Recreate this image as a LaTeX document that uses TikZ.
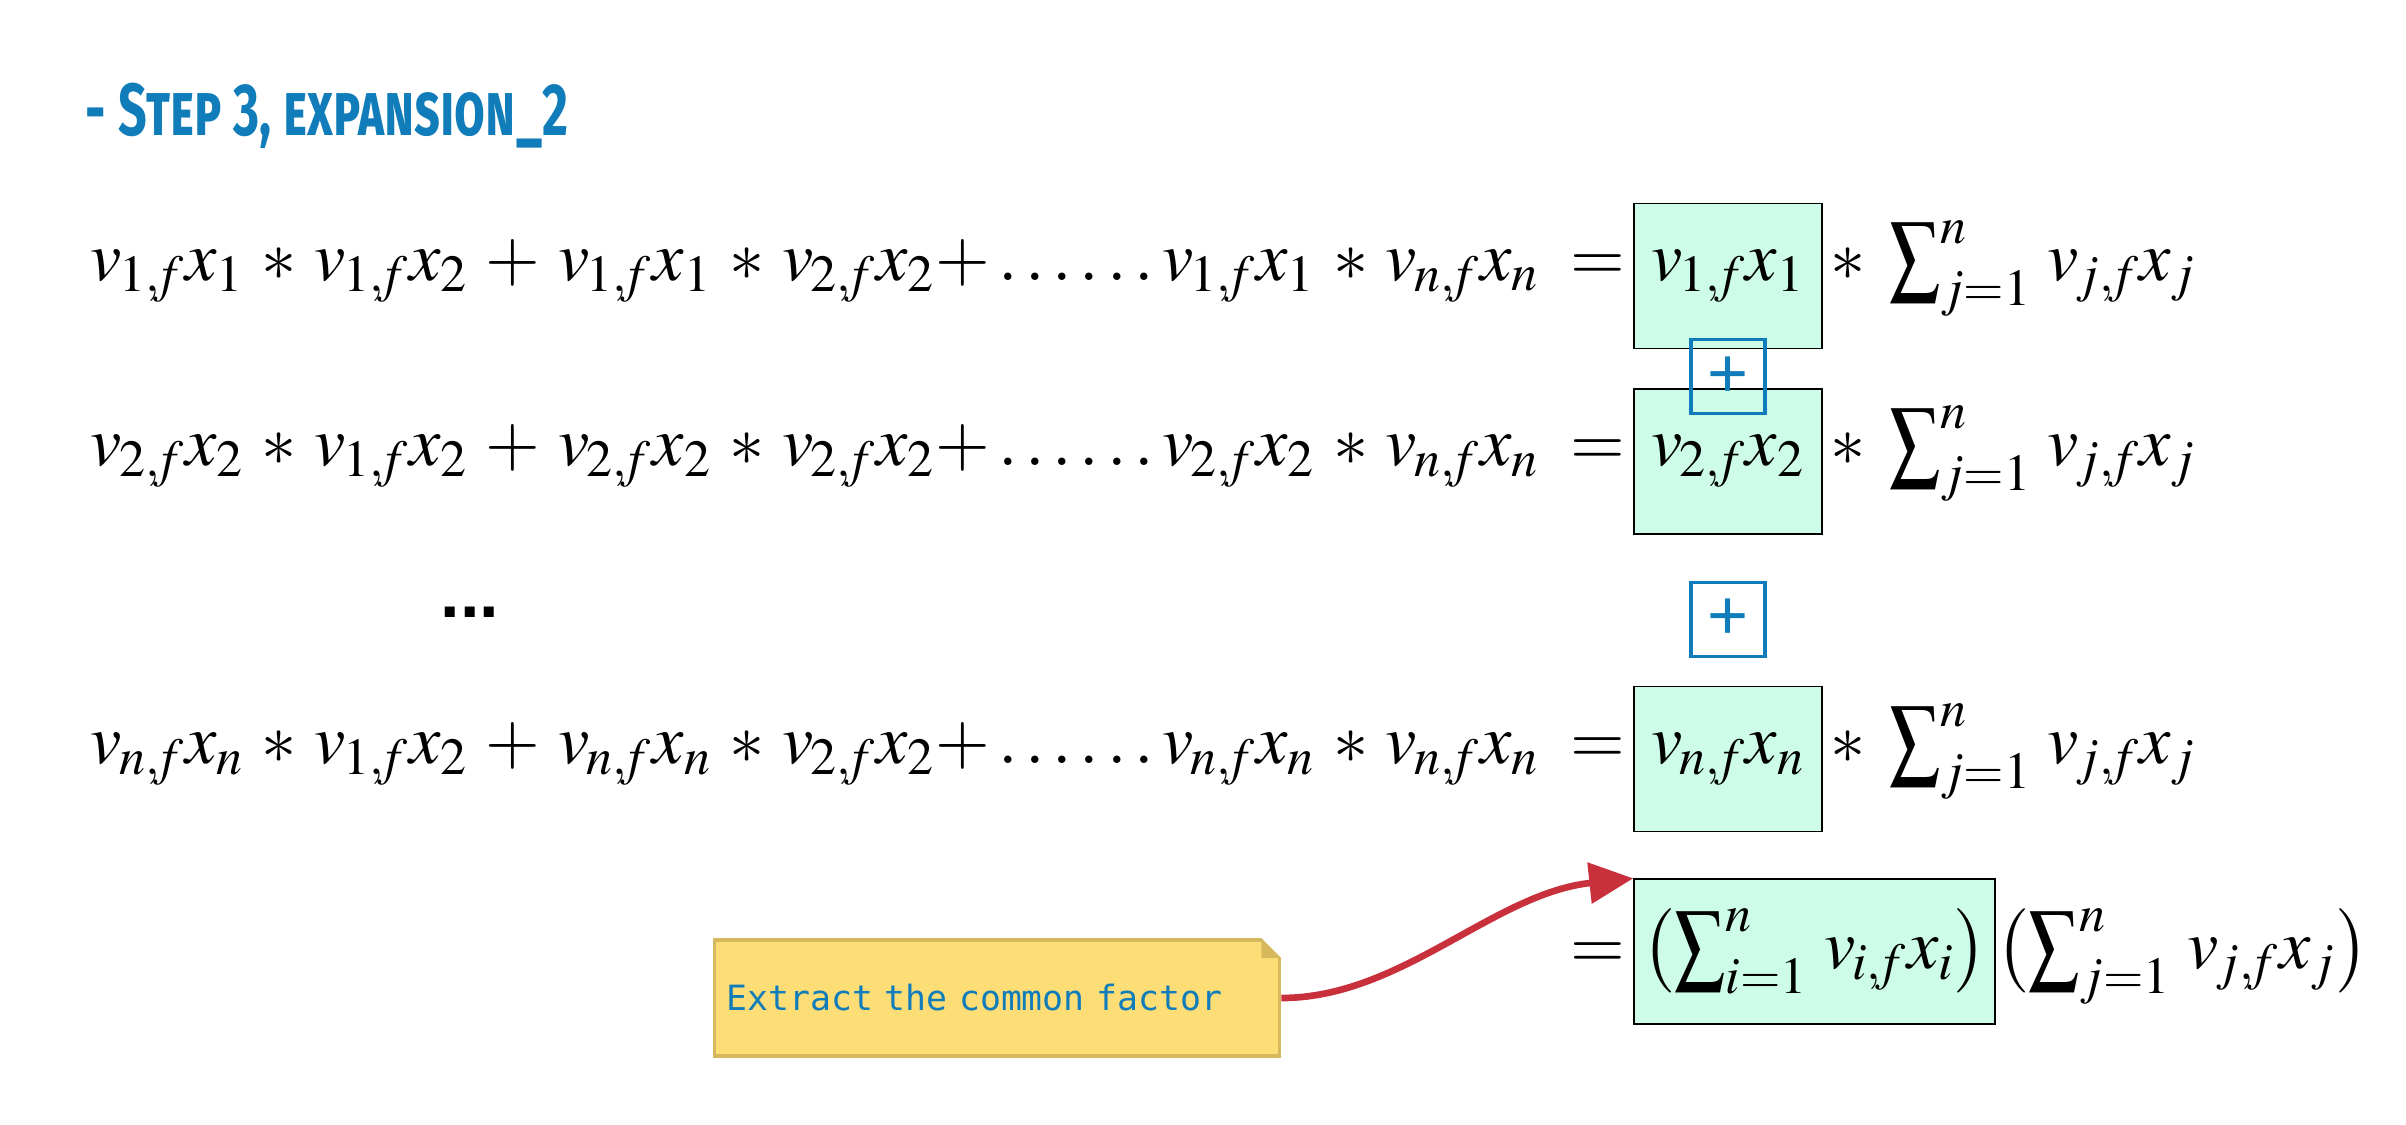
\documentclass[tikz,border=0pt]{standalone}
\usepackage{mathptmx}
\usepackage[no-math]{fontspec}
\setmainfont{Liberation Serif}
\usepackage{graphicx}
\usepackage{xcolor}
\usetikzlibrary{shapes,arrows,arrows.meta,positioning,calc}
\newfontfamily\titlefont[FakeStretch=0.68]{Fira Sans}
\newfontfamily\notefont{DejaVu Sans Mono}
\newfontfamily\plusfont{Liberation Sans}
\newcommand{\bigsigma}{\mathop{\vcenter{\hbox{\scalebox{1.02}[1.32]{$\sum$}}}}\nolimits}
\newcommand{\vx}[2]{v_{\mkern-1mu #1,\mkern-2mu f}x_{#2}}
\definecolor{titleblue}{HTML}{107CBA}
\definecolor{factgreen}{HTML}{CDFDE8}
\definecolor{noteyellow}{HTML}{FDDE76}
\definecolor{noteedge}{HTML}{D6B95C}
\definecolor{arrowred}{HTML}{C8303C}
\tikzset{
    fac/.style={rectangle, draw, fill=factgreen, minimum width=1.88cm, minimum height=1.45cm, inner sep=2pt, font=\fontsize{20}{24}\selectfont},
    eqn/.style={inner sep=2pt, font=\fontsize{20}{24}\selectfont},
    plusbox/.style={rectangle, draw=titleblue, line width=0.9pt, text=titleblue, minimum size=0.74cm, inner sep=0pt, font=\plusfont\fontsize{20}{24}\selectfont},
    note/.style={rectangle, draw=noteedge, fill=noteyellow, line width=1pt, text=titleblue, text width=5.41cm, inner sep=0.12cm, minimum height=1.16cm, align=left, font=\notefont\fontsize{9.9}{12}\selectfont},
    curvearrow/.style={draw, arrowred, line width=1.9pt, -{Triangle[length=0.44cm, width=0.4cm]}}
}
\begin{document}
\begin{tikzpicture}[x=0.01cm, y=-0.01cm]
    \useasboundingbox (0,0) rectangle (2406,1125);
    % Title
    \node[anchor=base west, inner sep=0pt, text=titleblue, font=\titlefont\bfseries\scshape\fontsize{21}{24}\selectfont] (title) at (85,136) {- Step 3, expansion\_2};

    % Common factors
    \node[fac] (fac1) at (1728,276) {$\vx{1}{1}$};
    \node[fac, below=0.39cm of fac1] (fac2) {$\vx{2}{2}$};
    \node[fac, below=1.51cm of fac2] (facn) {$\vx{n}{n}$};
    \node[fac, below=0.46cm of facn.south west, anchor=north west, minimum width=3.61cm] (facsum) {$\bigl(\bigsigma_{i=1}^{n}\,\vx{i}{i}\bigr)$};

    % Expanded rows
    \node[eqn, anchor=base east] (lhs1) at (fac1.base west) {$\vx{1}{1}\,*\,\vx{1}{2}\,+\,\vx{1}{1}\,*\,\vx{2}{2}{+}\ldots\ldots\vx{1}{1}\,*\,\vx{n}{n}\;=$};
    \node[eqn, anchor=base west] (rhs1) at (fac1.base east) {$*\;\bigsigma_{j=1}^{n}\,\vx{j}{j}$};
    \node[eqn, anchor=base east] (lhs2) at (fac2.base west) {$\vx{2}{2}\,*\,\vx{1}{2}\,+\,\vx{2}{2}\,*\,\vx{2}{2}{+}\ldots\ldots\vx{2}{2}\,*\,\vx{n}{n}\;=$};
    \node[eqn, anchor=base west] (rhs2) at (fac2.base east) {$*\;\bigsigma_{j=1}^{n}\,\vx{j}{j}$};
    \node[eqn, font=\plusfont\bfseries\fontsize{20}{24}\selectfont] (vdots) at (470,612) {...};
    \node[eqn, anchor=base east] (lhsn) at (facn.base west) {$\vx{n}{n}\,*\,\vx{1}{2}\,+\,\vx{n}{n}\,*\,\vx{2}{2}{+}\ldots\ldots\vx{n}{n}\,*\,\vx{n}{n}\;=$};
    \node[eqn, anchor=base west] (rhsn) at (facn.base east) {$*\;\bigsigma_{j=1}^{n}\,\vx{j}{j}$};
    \node[eqn, anchor=base east] (lhssum) at (facsum.base west) {$=$};
    \node[eqn, anchor=base west, inner sep=0pt] (rhssum) at (facsum.base east) {$\bigl(\bigsigma_{j=1}^{n}\,\vx{j}{j}\bigr)$};

    % Plus signs between the factors
    \node[plusbox, below=-0.11cm of fac1] (plus1) {+};
    \node[plusbox, below=0.46cm of fac2] (plus2) {+};

    % Note and arrow
    \node[note] (note) at (997,998) {Extract the common factor};
    \fill[white] ($(note.north east)+(-20,0)$) -- (note.north east) -- ++(0,20) -- cycle;
    \fill[noteedge] ($(note.north east)+(-20,0)$) -- ++(0,20) -- ++(20,0) -- cycle;
    \draw[curvearrow] (note.east) .. controls +(120,0) and +(-140,15) .. (facsum.north west);
\end{tikzpicture}
\end{document}
